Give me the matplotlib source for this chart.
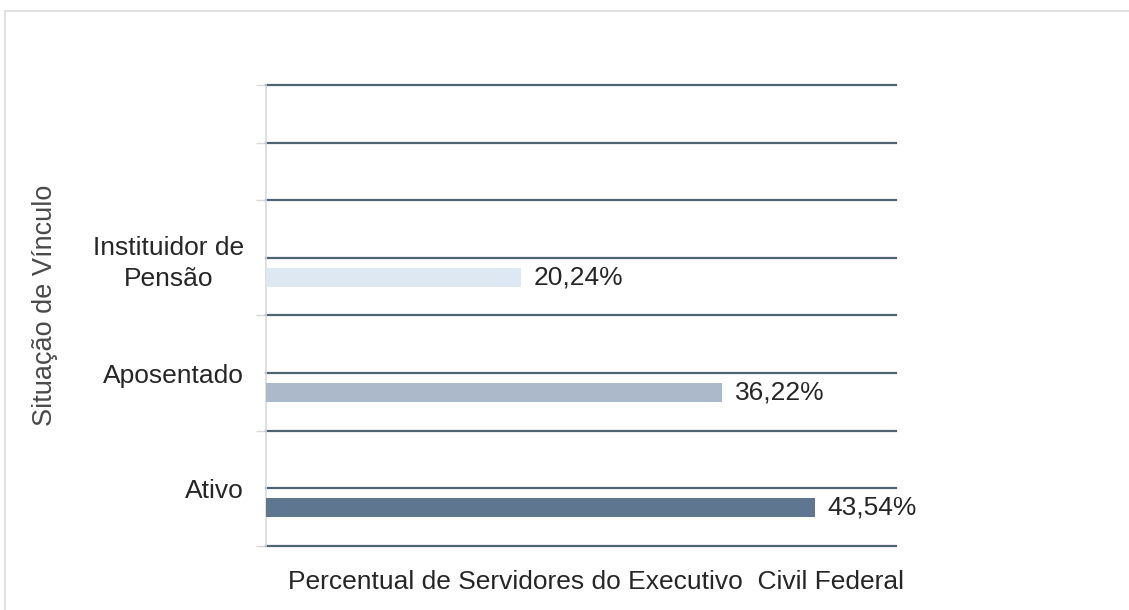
import numpy as np
import matplotlib.pyplot as plt
from matplotlib.patches import Rectangle

categorias = ['Ativo', 'Aposentado', 'Instituidor de\nPensão']
percentuais = [43.54, 36.22, 20.24]
rotulos = ['43,54%', '36,22%', '20,24%']
cores = ['#5f7691', '#abb9ca', '#dde8f3']

plt.rcParams['font.family'] = ['Liberation Sans', 'DejaVu Sans']

fig = plt.figure(figsize=(11.29, 6.1), dpi=100)
ax = fig.add_axes([0.2356, 0.1049, 0.5580, 0.7558])

pos = np.arange(len(categorias))
ax.barh(pos, percentuais, height=0.165, color=cores, zorder=3)

# linhas horizontais a cada meia categoria
linhas = np.arange(-0.33, 3.7, 0.5)
for y in linhas:
    ax.axhline(y, color='#4f6672', linewidth=1.6, zorder=2, clip_on=False)

for p, v, r in zip(pos, percentuais, rotulos):
    ax.text(v + 1.0, p, r, va='center', ha='left', fontsize=19, color='#262626')

ax.set_xlim(0, 50)
ax.set_ylim(-0.33, 3.67)
ax.set_yticks(pos + 0.17)
ax.set_yticklabels(categorias, fontsize=19, color='#262626', linespacing=1.35,
                   multialignment='center')
ax.set_yticks(linhas, minor=True)
ax.tick_params(axis='y', which='major', length=0, pad=16)
ax.tick_params(axis='y', which='minor', length=7, color='#d9d9d9', width=1)
ax.set_xticks([])

for s in ['top', 'right', 'bottom']:
    ax.spines[s].set_visible(False)
ax.spines['left'].set_color('#d9d9d9')
ax.spines['left'].set_linewidth(1.2)

fig.text(0.5275, 0.046, 'Percentual de Servidores do Executivo  Civil Federal',
         ha='center', va='center', fontsize=19, color='#262626')
fig.text(0.040, 0.50, 'Situação de Vínculo', rotation=90, ha='center', va='center',
         fontsize=19.5, color='#4a4a4a')

# moldura clara do gráfico
fig.patches.append(Rectangle((0.004, -0.1), 1.5, 1.082, transform=fig.transFigure,
                             fill=False, edgecolor='#dadada', linewidth=1.2))

fig.savefig('out.png', dpi=100)
